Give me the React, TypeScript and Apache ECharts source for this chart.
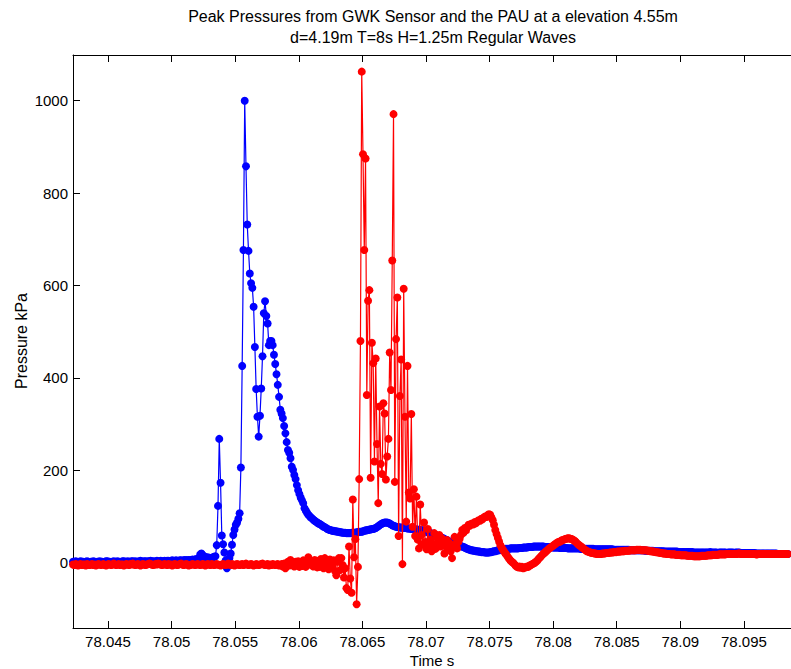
import React, { useEffect, useRef } from "react";
import * as echarts from "echarts";

// sampling of both records (10 kHz), start time of the window
const T0 = 78.04225;
const DT = 0.0001;

// GWK sensor (blue), kPa
const bluePressure = [
  2,1,3,2,1,2,3,2,2,1,2,3,2,1,2,2,3,2,1,2,
  2,3,2,2,1,2,3,3,2,2,1,2,3,2,2,3,2,1,2,3,
  3,2,2,3,2,2,3,3,2,3,2,2,3,4,3,2,3,3,2,3,
  3,4,3,3,2,3,4,3,3,4,3,3,4,3,4,4,3,4,5,4,
  4,5,4,4,5,5,4,5,6,5,5,6,5,6,7,6,7,8,7,9,
  18,20,16,14,12,11,12,10,9,10,12,13,14,38,123,268,173,59,40,22,
  5,-12,0,10,20,39,60,72,82,87,95,107,206,426,677,1000,858,732,675,626,
  605,595,554,467,376,316,273,318,377,447,540,566,534,518,471,480,480,471,450,430,
  408,385,359,331,323,313,296,280,261,244,238,226,208,201,190,181,168,157,149,141,
  135,129,118,113,108,104,101,98,96,93,91,89,87,85,84,82,80,78,77,75,
  73,72,71,70,69,69,68,68,67,67,66,66,65,65,65,64,64,64,64,65,
  65,65,65,66,66,67,67,67,68,69,70,70,71,72,72,73,73,74,75,77,
  79,81,83,85,86,87,87,87,86,85,83,81,80,79,78,77,77,76,76,76,
  75,75,75,74,74,74,73,73,73,72,72,72,71,71,70,70,69,68,67,66,
  65,64,63,62,61,60,59,58,57,55,54,53,51,50,49,47,46,44,43,42,
  41,40,39,38,37,36,35,34,33,31,30,29,28,27,27,26,26,25,25,24,
  24,23,23,23,22,22,22,22,23,23,24,25,25,26,27,27,28,29,29,29,
  30,30,30,30,31,31,31,31,31,31,31,32,32,32,33,33,33,33,34,34,
  34,34,35,35,35,35,35,35,35,35,35,34,34,34,34,34,34,33,33,33,
  33,33,33,32,32,32,32,32,32,31,31,31,31,31,31,31,31,31,31,30,
  30,30,30,30,30,30,30,30,30,30,29,29,29,29,29,29,29,29,29,29,
  29,29,29,29,29,28,28,28,28,28,28,28,28,28,28,28,28,28,27,27,
  27,27,27,27,27,27,27,27,27,27,26,26,26,26,26,26,26,25,25,25,
  25,25,25,25,25,24,24,24,24,24,24,24,24,24,24,24,23,23,23,23,
  23,23,23,23,23,23,23,23,22,22,22,22,22,22,22,22,22,22,22,22,
  22,23,22,22,22,22,22,21,22,22,22,22,22,22,21,22,22,22,22,22,
  21,22,22,22,22,21,21,21,21,21,21,21,21,21,21,21,21,20,20,20,
  20,20,20,20,20,20,20,20,20,20,20,20,20,20,19,19,19,19,19,19,
  19,19,19,
];

// PAU (red), kPa
const redPressure = [
  -4,-5,-3,-4,-6,-4,-3,-5,-4,-4,-6,-3,-4,-5,-4,-3,-5,-4,-6,-4,
  -3,-4,-5,-4,-3,-5,-6,-4,-3,-4,-5,-4,-2,-4,-5,-4,-3,-5,-4,-4,
  -6,-4,-3,-4,-5,-3,-4,-2,-4,-5,-4,-3,-4,-6,-4,-3,-4,-5,-4,-3,
  -2,-3,-4,-5,-4,-3,-4,-2,-3,-4,-5,-4,-3,-4,-5,-3,-4,-4,-6,-4,
  -3,-4,-5,-4,-3,-2,-4,-5,-4,-3,-4,-6,-5,-4,-3,-4,-5,-4,-3,-4,
  -5,-4,-3,-4,-6,-4,-3,-4,-5,-3,-4,-5,-4,-3,-4,-5,-6,-4,-3,-4,
  -5,-4,-2,-4,-5,-3,-4,-6,-4,-3,-4,-5,-4,-3,-5,-4,-2,-4,-5,-4,
  -3,-4,-6,-5,-3,-4,-5,-4,-3,-2,-4,-5,-4,-3,-6,-4,-5,-3,-4,-5,
  -4,-3,-6,-5,-3,-8,-2,-12,-4,2,-6,6,-3,-1,-8,2,-5,3,-9,-2,
  -7,5,-1,-9,0,12,-4,3,-1,-8,6,-2,-10,4,-9,8,-3,-12,10,-6,
  2,-14,7,-3,-7,5,-18,-27,2,10,-16,10,-5,-32,-12,-55,-59,35,-34,-65,
  137,12,51,-90,-9,181,480,1063,884,677,875,363,567,590,184,476,432,219,442,257,
  129,338,214,192,345,323,180,230,268,455,374,654,971,175,484,574,58,361,440,-3,
  593,316,89,426,152,139,322,78,159,58,143,50,31,126,60,40,87,45,29,73,
  35,50,25,40,64,30,55,45,60,35,53,40,20,38,49,30,42,25,10,35,
  56,40,31,45,52,60,71,65,75,70,78,82,80,84,85,83,88,86,90,92,
  91,95,94,98,100,99,103,105,104,98,92,82,71,62,54,46,38,33,28,24,
  20,16,12,8,5,2,0,-3,-6,-9,-10,-8,-11,-9,-12,-10,-10,-8,-9,-6,
  -5,-3,-2,0,2,5,8,11,14,17,20,22,25,27,30,32,34,36,38,40,
  42,44,45,46,48,49,50,51,52,53,53,52,51,50,48,46,43,40,38,36,
  34,31,29,27,25,24,23,22,21,21,20,20,19,19,19,19,20,20,20,21,
  21,21,22,22,22,23,23,23,24,24,24,25,25,25,26,26,26,26,27,27,
  27,27,27,28,28,28,28,27,27,27,27,27,26,26,25,25,24,24,23,23,
  22,22,21,21,20,20,20,19,19,19,18,18,18,18,17,17,17,17,16,16,
  16,16,16,15,15,15,15,15,14,14,14,14,14,14,15,15,15,15,15,16,
  16,16,16,17,17,17,17,17,18,18,18,18,18,18,19,19,19,19,19,19,
  19,19,19,20,20,19,19,19,19,19,19,19,19,19,19,19,19,18,18,19,
  19,19,19,19,19,19,19,19,19,19,19,19,19,19,19,19,19,19,19,19,
  19,19,19,
];

const xTicks = [78.045, 78.05, 78.055, 78.06, 78.065, 78.07, 78.075, 78.08, 78.085, 78.09, 78.095];
const yTicks = [0, 200, 400, 600, 800, 1000];
const X_MIN = 78.04225;
const X_MAX = 78.0987;
const Y_MIN = -141.3;
const Y_MAX = 1099;

const titleLine1 = "Peak Pressures from GWK Sensor and the PAU at a elevation 4.55m";
const titleLine2 = "d=4.19m T=8s H=1.25m Regular Waves";
const xName = "Time s";
const yName = "Pressure kPa";

const FONT = "'Liberation Sans', Arial, Helvetica, sans-serif";

export default function App() {
  const ref = useRef<HTMLDivElement>(null);
  useEffect(() => {
    if (!ref.current) return;
    const chart = echarts.init(ref.current, null, { renderer: "svg" });
    const toPairs = (vals: number[]) => vals.map((v, i) => [T0 + i * DT, v]);
    const axisLine = { show: true, onZero: false, lineStyle: { color: "#000", width: 1 } };
    const tick = (vals: number[]) => ({
      show: true,
      inside: true,
      length: 7,
      customValues: vals,
      lineStyle: { color: "#000", width: 1 },
    });
    const lineSeries = (vals: number[], color: string, z: number) => ({
      type: "line",
      data: toPairs(vals),
      symbol: "circle",
      symbolSize: 8,
      showSymbol: true,
      showAllSymbol: true,
      lineStyle: { color, width: 1.2 },
      itemStyle: { color },
      emphasis: { disabled: true },
      silent: true,
      z,
      clip: true,
    });
    const textStyle = (text: string, size: number) => ({
      text,
      fontSize: size,
      fontFamily: FONT,
      fill: "#000",
      align: "center",
      verticalAlign: "middle",
      textAlign: "center",
      textVerticalAlign: "middle",
    });
    chart.setOption({
      animation: false,
      backgroundColor: "#fff",
      grid: { left: 73, right: 0, top: 55, bottom: 41, containLabel: false },
      xAxis: [
        {
          type: "value",
          position: "bottom",
          min: X_MIN,
          max: X_MAX,
          axisLine,
          axisTick: tick(xTicks),
          axisLabel: {
            customValues: xTicks,
            formatter: (v: number) => String(parseFloat(v.toFixed(3))),
            color: "#000",
            fontSize: 15,
            fontFamily: FONT,
            margin: 6,
          },
          splitLine: { show: false },
        },
        {
          type: "value",
          position: "top",
          min: X_MIN,
          max: X_MAX,
          axisLine,
          axisTick: tick(xTicks),
          axisLabel: { show: false },
          splitLine: { show: false },
        },
      ],
      yAxis: [
        {
          type: "value",
          position: "left",
          min: Y_MIN,
          max: Y_MAX,
          axisLine,
          axisTick: tick(yTicks),
          axisLabel: {
            customValues: yTicks,
            formatter: (v: number) => String(v),
            color: "#000",
            fontSize: 15,
            fontFamily: FONT,
            margin: 5,
          },
          splitLine: { show: false },
        },
      ],
      series: [lineSeries(bluePressure, "#0000ff", 2), lineSeries(redPressure, "#ff0000", 3)],
      graphic: [
        { type: "text", x: 433, y: 16, style: textStyle(titleLine1, 16), silent: true },
        { type: "text", x: 433, y: 37, style: textStyle(titleLine2, 16), silent: true },
        { type: "text", x: 432, y: 660, style: textStyle(xName, 15), silent: true },
        { type: "text", x: 21, y: 341, rotation: Math.PI / 2, style: textStyle(yName, 16), silent: true },
      ],
    });
    return () => chart.dispose();
  }, []);
  return (
    <div
      ref={ref}
      style={{ position: "absolute", left: 0, top: 0, width: 791, height: 669 }}
    />
  );
}
